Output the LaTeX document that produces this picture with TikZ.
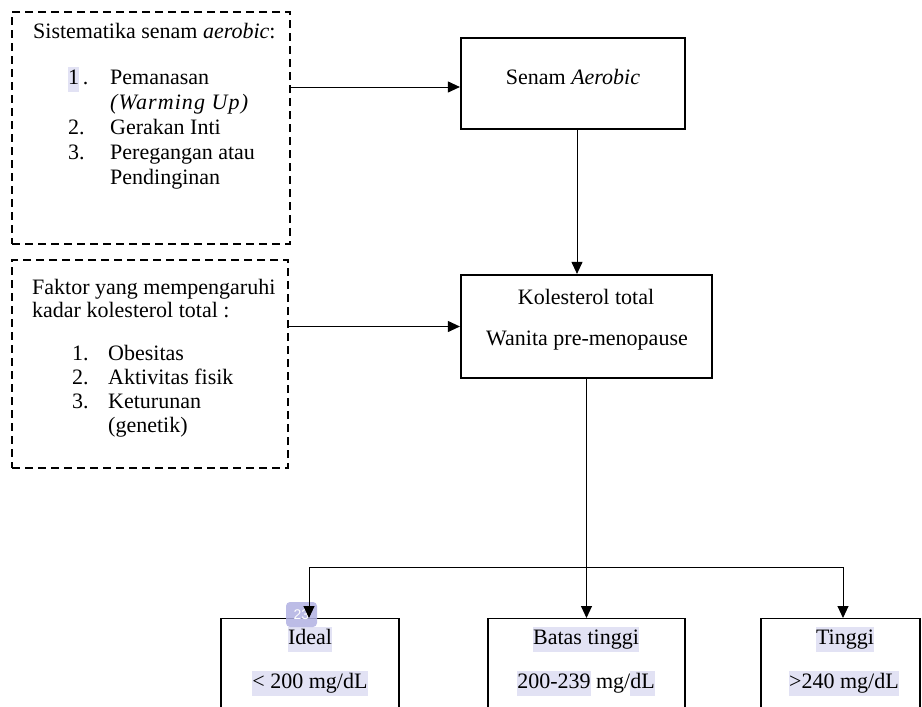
\documentclass[tikz,border=0pt]{standalone}
\usepackage{fontspec}
\setmainfont{Liberation Serif}
\newfontfamily\badgefont{Liberation Sans}
\usetikzlibrary{arrows.meta}
\definecolor{hl}{HTML}{E2E2F4}
\definecolor{badgecol}{HTML}{B0B0E2}
\newcommand{\hlt}[1]{{\setlength{\fboxsep}{0pt}\colorbox{hl}{\strut #1}}}
\begin{document}
\begin{tikzpicture}[x=1pt,y=-1pt,
  solidbox/.style={draw, line width=2.2pt, inner sep=0pt},
  dashbox/.style={draw, line width=1.8pt, dash pattern=on 8pt off 5pt, inner sep=0pt},
  catbox/.style={draw, line width=1.3pt, inner sep=0pt, anchor=north},
  conn/.style={line width=1pt},
  arr/.style={conn, -{Triangle[length=12pt,width=11pt]}},
  txt/.style={font=\fontsize{22}{25}\selectfont, inner sep=0pt},
  ltxt/.style={txt, anchor=base west},
  ctxt/.style={txt, anchor=center}
]
\useasboundingbox (0,0) rectangle (922,707);
\clip (0,0) rectangle (922,707);

% dashed boxes
\node[dashbox, minimum width=278pt, minimum height=232pt] (sist) at (151,128) {};
\node[ltxt] (sistT) at (33,38) {Sistematika senam \textit{aerobic}:};
\node[ltxt] (s1n) at (68,84) {\hlt{1}\,.};
\node[ltxt] (s1a) at (110,84) {Pemanasan};
\node[ltxt] (s1b) at (110,109) {\addfontfeature{LetterSpace=5}\textit{(Warming Up)}};
\node[ltxt] (s2n) at (68,134) {2.};
\node[ltxt] (s2) at (110,134) {Gerakan Inti};
\node[ltxt] (s3n) at (68,159) {3.};
\node[ltxt] (s3a) at (110,159) {Peregangan atau};
\node[ltxt] (s3b) at (110,184) {Pendinginan};

\node[dashbox, minimum width=276pt, minimum height=208pt] (faktor) at (150,364) {};
\node[ltxt] (fT1) at (32,294) {Faktor yang mempengaruhi};
\node[ltxt] (fT2) at (32,317) {kadar kolesterol total :};
\node[ltxt] (f1n) at (72,360) {1.};
\node[ltxt] (f1) at (108,360) {Obesitas};
\node[ltxt] (f2n) at (72,384) {2.};
\node[ltxt] (f2) at (108,384) {Aktivitas fisik};
\node[ltxt] (f3n) at (72,408) {3.};
\node[ltxt] (f3a) at (108,408) {Keturunan};
\node[ltxt] (f3b) at (108,432) {(genetik)};

% main boxes
\node[solidbox, minimum width=224pt, minimum height=91pt] (senam) at (573,83.5) {};
\node[ctxt] (senamT) at (573,77) {Senam \textit{Aerobic}};
\node[solidbox, minimum width=251pt, minimum height=103pt] (kol) at (586.5,326.5) {};
\node[ctxt] (kolT1) at (586,297) {Kolesterol total};
\node[ctxt] (kolT2) at (587,341) {Wanita pre-menopause};

% category boxes
\node[catbox, minimum width=178pt, minimum height=130pt] (ideal) at (310,618) {};
\node[catbox, minimum width=197pt, minimum height=130pt] (batas) at (586.5,618) {};
\node[catbox, minimum width=159pt, minimum height=130pt] (tinggi) at (840.5,618) {};
\node[ctxt] (idealT1) at (310,639) {\hlt{Ideal}};
\node[ctxt] (idealT2) at (310,683) {\hlt{< 200 mg/dL}};
\node[ctxt] (batasT1) at (586,639) {\hlt{Batas tinggi}};
\node[ctxt] (batasT2) at (586,683) {\hlt{200-239} mg/\hlt{dL}};
\node[ctxt] (tinggiT1) at (845,639) {\hlt{Tinggi}};
\node[ctxt] (tinggiT2) at (844,683) {\hlt{>240 mg/dL}};

% badge
\node[fill=badgecol, opacity=0.85, text opacity=1, rounded corners=4pt, minimum width=31pt, minimum height=25pt, inner sep=0pt, text=white, font=\badgefont\fontsize{14}{14}\selectfont] (badge) at (301.5,614.5) {23};

% connectors
\coordinate (senamIn) at ([yshift=-3.5pt]senam.west);
\coordinate (senamOut) at ([xshift=4pt]senam.south);
\coordinate (idealIn) at ([xshift=-1pt]ideal.north);
\coordinate (tinggiIn) at ([xshift=2.5pt]tinggi.north);
\coordinate (split) at (586.5,567);
\draw[arr] (sist.east |- senamIn) -- (senamIn);
\draw[arr] (faktor.east |- kol.west) -- (kol.west);
\draw[arr] (senamOut) -- (senamOut |- kol.north);
\draw[conn] (kol.south) -- (kol.south |- split);
\draw[arr] (kol.south |- split) -| (idealIn);
\draw[arr] (kol.south |- split) -- (batas.north);
\draw[arr] (kol.south |- split) -| (tinggiIn);
\end{tikzpicture}
\end{document}
